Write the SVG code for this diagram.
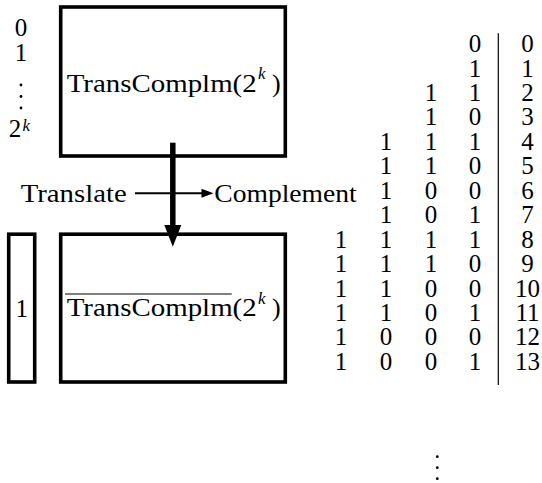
<svg xmlns="http://www.w3.org/2000/svg" width="542" height="483" viewBox="0 0 542 483">
<style>
.d{font-size:25px;text-anchor:middle}
.w{font-size:26px}
.sup{font-size:17px;font-style:italic}
.box{fill:none;stroke:#000;stroke-width:3.6}
.dot{fill:#000}
</style>
<rect width="542" height="483" fill="#fff"/>
<g font-family="Liberation Serif" fill="#000">
<g id="left-labels">
<text class="d" x="21" y="36">0</text>
<text class="d" x="21" y="61">1</text>
<circle class="dot" cx="21" cy="85" r="1.4"/>
<circle class="dot" cx="21" cy="96.5" r="1.4"/>
<circle class="dot" cx="21" cy="108" r="1.4"/>
<text class="d" x="15" y="136.7">2</text>
<text class="sup" x="22.5" y="131">k</text>
</g>
<g id="top-box">
<rect class="box" x="60.7" y="7" width="224.6" height="149"/>
<text class="w" x="66.7" y="91.7" textLength="190" lengthAdjust="spacingAndGlyphs">TransComplm(2</text>
<text class="sup" x="258" y="79">k</text>
<text class="w" x="272" y="91.7">)</text>
</g>
<g id="one-box">
<rect class="box" x="8.7" y="234.2" width="26" height="147.8"/>
<text class="d" x="21.7" y="316.5">1</text>
</g>
<g id="bottom-box">
<rect class="box" x="60.7" y="234.2" width="224.6" height="147.8"/>
<line x1="65" y1="294" x2="231.7" y2="294" stroke="#000" stroke-width="1.2"/>
<text class="w" x="66.7" y="316" textLength="190" lengthAdjust="spacingAndGlyphs">TransComplm(2</text>
<text class="sup" x="258" y="303.5">k</text>
<text class="w" x="272" y="316">)</text>
</g>
<g id="translate">
<text class="w" x="20.7" y="201.5" textLength="106" lengthAdjust="spacingAndGlyphs">Translate</text>
</g>
<g id="complement">
<text class="w" x="214.3" y="201.5" textLength="142.4" lengthAdjust="spacingAndGlyphs">Complement</text>
</g>
<g id="connectors">
<line x1="135" y1="193.3" x2="203" y2="193.3" stroke="#000" stroke-width="2"/>
<polygon points="201.5,188.8 213.5,193.3 201.5,197.8" fill="#000"/>
<line x1="172.8" y1="142.7" x2="172.8" y2="228" stroke="#000" stroke-width="5.5"/>
<polygon points="164.3,225 181.3,225 172.8,246.7" fill="#000"/>
</g>
<g id="table">
<line x1="498.3" y1="33.3" x2="498.3" y2="385" stroke="#000" stroke-width="1.2"/>
<text class="d" x="475" y="52">0</text><text class="d" x="527.5" y="52">0</text>
<text class="d" x="475" y="76.5">1</text><text class="d" x="527.5" y="76.5">1</text>
<text class="d" x="431" y="100.9">1</text><text class="d" x="475" y="100.9">1</text><text class="d" x="527.5" y="100.9">2</text>
<text class="d" x="431" y="125.4">1</text><text class="d" x="475" y="125.4">0</text><text class="d" x="527.5" y="125.4">3</text>
<text class="d" x="386" y="149.8">1</text><text class="d" x="431" y="149.8">1</text><text class="d" x="475" y="149.8">1</text><text class="d" x="527.5" y="149.8">4</text>
<text class="d" x="386" y="174.3">1</text><text class="d" x="431" y="174.3">1</text><text class="d" x="475" y="174.3">0</text><text class="d" x="527.5" y="174.3">5</text>
<text class="d" x="386" y="198.7">1</text><text class="d" x="431" y="198.7">0</text><text class="d" x="475" y="198.7">0</text><text class="d" x="527.5" y="198.7">6</text>
<text class="d" x="386" y="223.2">1</text><text class="d" x="431" y="223.2">0</text><text class="d" x="475" y="223.2">1</text><text class="d" x="527.5" y="223.2">7</text>
<text class="d" x="341" y="247.6">1</text><text class="d" x="386" y="247.6">1</text><text class="d" x="431" y="247.6">1</text><text class="d" x="475" y="247.6">1</text><text class="d" x="527.5" y="247.6">8</text>
<text class="d" x="341" y="272.1">1</text><text class="d" x="386" y="272.1">1</text><text class="d" x="431" y="272.1">1</text><text class="d" x="475" y="272.1">0</text><text class="d" x="527.5" y="272.1">9</text>
<text class="d" x="341" y="296.5">1</text><text class="d" x="386" y="296.5">1</text><text class="d" x="431" y="296.5">0</text><text class="d" x="475" y="296.5">0</text><text class="d" x="527.5" y="296.5">10</text>
<text class="d" x="341" y="321">1</text><text class="d" x="386" y="321">1</text><text class="d" x="431" y="321">0</text><text class="d" x="475" y="321">1</text><text class="d" x="527.5" y="321">11</text>
<text class="d" x="341" y="345.4">1</text><text class="d" x="386" y="345.4">0</text><text class="d" x="431" y="345.4">0</text><text class="d" x="475" y="345.4">0</text><text class="d" x="527.5" y="345.4">12</text>
<text class="d" x="341" y="369.9">1</text><text class="d" x="386" y="369.9">0</text><text class="d" x="431" y="369.9">0</text><text class="d" x="475" y="369.9">1</text><text class="d" x="527.5" y="369.9">13</text>
</g>
<g id="bottom-dots">
<circle class="dot" cx="437.3" cy="456.7" r="1.4"/>
<circle class="dot" cx="437.3" cy="467.7" r="1.4"/>
<circle class="dot" cx="437.3" cy="478.7" r="1.4"/>
</g>
</g>
</svg>
